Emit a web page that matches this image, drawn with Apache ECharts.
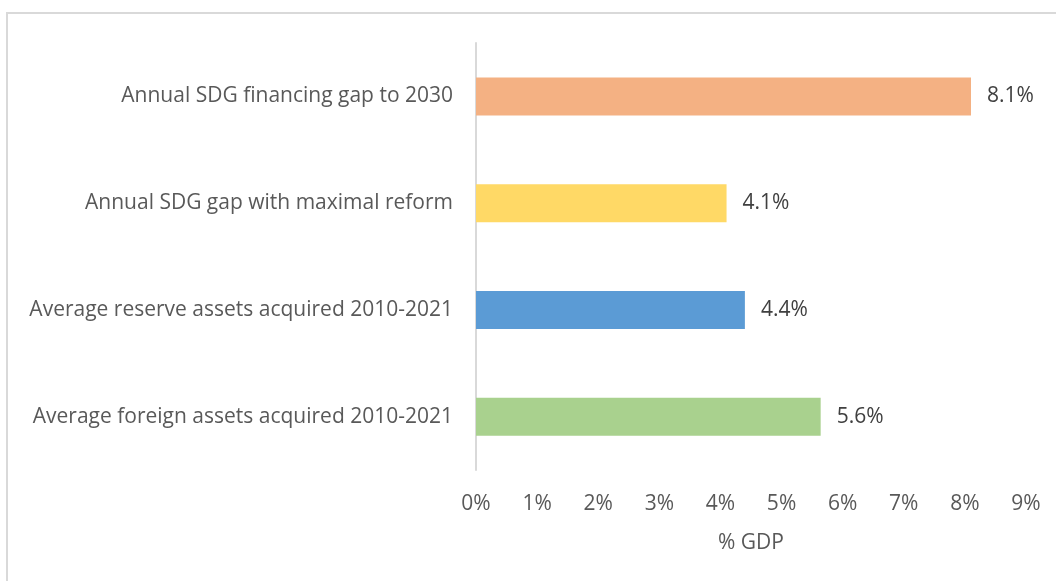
<!DOCTYPE html>
<html>
<head>
<meta charset="utf-8">
<script src="https://cdn.jsdelivr.net/npm/echarts@6/dist/echarts.min.js"></script>
<style>
html,body{margin:0;padding:0;background:#fff;}
#chart{width:1056px;height:581px;}
</style>
</head>
<body>
<div id="chart"></div>
<script>
const categories = [
  "Annual SDG financing gap to 2030",
  "Annual SDG gap with maximal reform",
  "Average reserve assets acquired 2010-2021",
  "Average foreign assets acquired 2010-2021"
];
const values = [8.1, 4.1, 4.4, 5.64];
const barColors = ["#F4B183", "#FFD966", "#5B9BD5", "#A9D18E"];
const xTickLabels = ["0%","1%","2%","3%","4%","5%","6%","7%","8%","9%"];
const xAxisTitle = "% GDP";

const FONT = "Open Sans";
const FS = 21;
const chart = echarts.init(document.getElementById('chart'), null, {renderer: 'canvas'});
chart.setOption({
  animation: false,
  backgroundColor: '#ffffff',
  graphic: [{
    type: 'rect',
    shape: {x: 7, y: 13, width: 1200, height: 800},
    style: {fill: 'none', stroke: '#d9d9d9', lineWidth: 2},
    silent: true, z: -10
  }],
  grid: {left: 476, right: 30, top: 43, bottom: 111, containLabel: false},
  xAxis: {
    type: 'value', min: 0, max: 9, interval: 1,
    name: xAxisTitle, nameLocation: 'middle', nameGap: 63,
    nameTextStyle: {fontFamily: FONT, fontSize: FS, color: '#595959'},
    axisLine: {show: false}, axisTick: {show: false}, splitLine: {show: false},
    axisLabel: {
      margin: 24, fontFamily: FONT, fontSize: FS, color: '#595959',
      formatter: function (v) { return xTickLabels[Math.round(v)]; }
    }
  },
  yAxis: {
    type: 'category', data: categories, inverse: true,
    axisLine: {show: true, lineStyle: {color: '#d9d9d9', width: 2}},
    axisTick: {show: false},
    axisLabel: {margin: 23, fontFamily: FONT, fontSize: FS, color: '#595959'}
  },
  series: [{
    type: 'bar',
    data: values.map((v, i) => ({value: v, itemStyle: {color: barColors[i]}})),
    barWidth: 38,
    label: {
      show: true, position: 'right', distance: 16,
      fontFamily: FONT, fontSize: FS, color: '#404040',
      formatter: function (p) { return p.value.toFixed(1) + '%'; }
    }
  }]
});
</script>
</body>
</html>
